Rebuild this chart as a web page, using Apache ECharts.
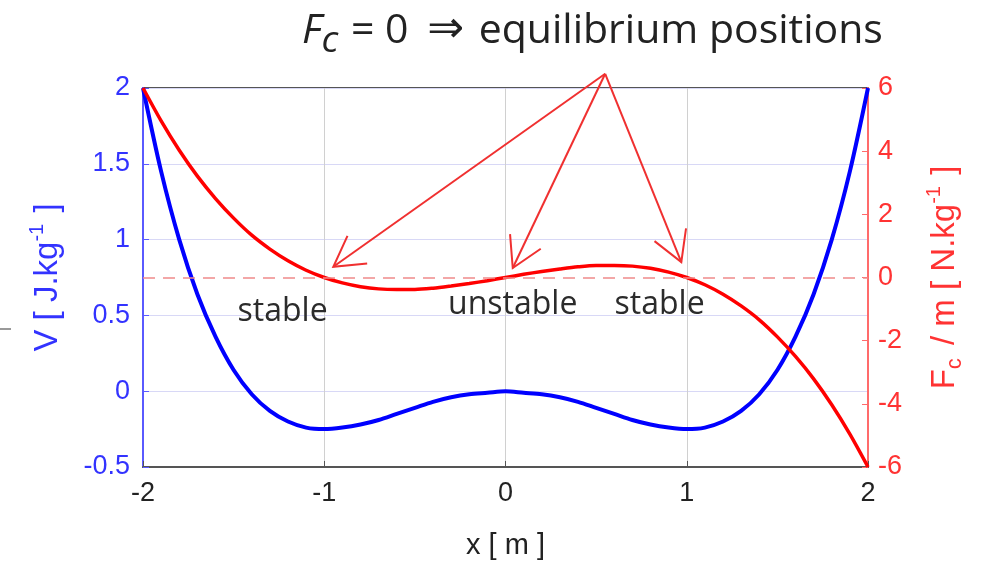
<!DOCTYPE html>
<html>
<head>
<meta charset="utf-8">
<script src="https://cdn.jsdelivr.net/npm/echarts@6/dist/echarts.min.js"></script>
<style>
  html, body { margin: 0; padding: 0; background: #fff; }
  #main { width: 987px; height: 574px; }
</style>
</head>
<body>
<div id="main"></div>
<script>
// x positions [m]
var xs = [-2.0, -1.9, -1.8, -1.7, -1.6, -1.5, -1.4, -1.3, -1.2, -1.1, -1.0,
          -0.9, -0.8, -0.7, -0.6, -0.5, -0.4, -0.3, -0.2, -0.1, 0.0,
          0.1, 0.2, 0.3, 0.4, 0.5, 0.6, 0.7, 0.8, 0.9, 1.0,
          1.1, 1.2, 1.3, 1.4, 1.5, 1.6, 1.7, 1.8, 1.9, 2.0];
// potential V [J/kg]
var vValues = [2.00, 1.45, 1.00, 0.64, 0.36, 0.14, -0.02, -0.13, -0.20, -0.24, -0.25,
               -0.24, -0.22, -0.19, -0.15, -0.11, -0.07, -0.04, -0.02, -0.01, 0.00,
               -0.01, -0.02, -0.04, -0.07, -0.11, -0.15, -0.19, -0.22, -0.24, -0.25,
               -0.24, -0.20, -0.13, -0.02, 0.14, 0.36, 0.64, 1.00, 1.45, 2.00];
// force Fc/m [N/kg]
var fValues = [6.00, 4.96, 4.03, 3.21, 2.50, 1.88, 1.34, 0.90, 0.53, 0.23, 0.00,
               -0.17, -0.29, -0.36, -0.38, -0.38, -0.34, -0.27, -0.19, -0.10, 0.00,
               0.10, 0.19, 0.27, 0.34, 0.38, 0.38, 0.36, 0.29, 0.17, 0.00,
               -0.23, -0.53, -0.90, -1.34, -1.88, -2.50, -3.21, -4.03, -4.96, -6.00];
var xTicks = [-2, -1, 0, 1, 2];
var vTicks = [-0.5, 0, 0.5, 1, 1.5, 2];
var fTicks = [-6, -4, -2, 0, 2, 4, 6];

// equilibrium labels and arrows (x, value)
var eqLabels = ['stable', 'unstable', 'stable'];
var eqLabelPos = [[-1.23, 0.52], [0.04, 0.57], [0.85, 0.57]];   // on V axis
var arrowFrom = [0.55, 6.45];                                      // on F axis
var arrowTo = [[-0.95, 0.34], [0.04, 0.30], [0.97, 0.49]];

var BLUE = '#0000ff', RED = '#ff0000';
var TICKFONT = 'Liberation Sans, Arial, sans-serif';

function pairs(a, b) {
    var out = [];
    for (var i = 0; i < a.length; i++) out.push([a[i], b[i]]);
    return out;
}

var myChart = echarts.init(document.getElementById('main'));

myChart.setOption({
    animation: false,
    backgroundColor: '#fff',
    title: {
        text: '{f|F}{c|c}{t| = 0 }{a|⇒}{t| equilibrium positions}',
        left: 297,
        top: 2,
        textStyle: {
            fontWeight: 'normal',
            rich: {
                f: { fontFamily: 'Open Sans', fontStyle: 'italic', fontWeight: 'normal', fontSize: 41, lineHeight: 48, color: '#222' },
                c: { fontFamily: 'Open Sans', fontStyle: 'italic', fontWeight: 'normal', fontSize: 37, lineHeight: 48, padding: [20, 2, 0, 0], color: '#222' },
                t: { fontFamily: 'Open Sans', fontWeight: 'normal', fontSize: 41, lineHeight: 48, color: '#222' },
                a: { fontFamily: 'DejaVu Sans', fontWeight: 'normal', fontSize: 44, lineHeight: 48, color: '#222', padding: [0, 4, 0, 8] }
            }
        }
    },
    grid: {
        left: 143, right: 119, top: 88, bottom: 107,
        show: true,
        borderColor: '#555',
        borderWidth: 2
    },
    xAxis: {
        type: 'value',
        min: -2, max: 2, interval: 1,
        name: 'x [ m ]',
        nameLocation: 'middle',
        nameGap: 64,
        nameTextStyle: { fontFamily: TICKFONT, fontSize: 29, color: '#222' },
        axisLine: { onZero: false, lineStyle: { color: '#555', width: 2 } },
        axisTick: { inside: true, length: 6, lineStyle: { color: '#555' } },
        axisLabel: { fontFamily: TICKFONT, fontSize: 27, color: '#222', margin: 13 },
        splitLine: { lineStyle: { color: '#d0d0d0', width: 1 } }
    },
    yAxis: [
        {
            type: 'value',
            min: -0.5, max: 2, interval: 0.5,
            name: '{t|V [ J.kg}{sup|-1}{t| ]}',
            nameLocation: 'middle',
            nameRotate: 90,
            nameGap: 76,
            nameTextStyle: {
                rich: {
                    t: { fontFamily: TICKFONT, fontSize: 33, lineHeight: 38, color: '#3333ff' },
                    sup: { fontFamily: TICKFONT, fontSize: 20, lineHeight: 20, padding: [0, 2, 22, 0], color: '#3333ff' }
                }
            },
            axisLine: { onZero: false, lineStyle: { color: '#5a5aff', width: 2 } },
            axisTick: { inside: true, length: 6, lineStyle: { color: '#5a5aff' } },
            axisLabel: { fontFamily: TICKFONT, fontSize: 27, color: '#3333ff', margin: 13 },
            splitLine: { lineStyle: { color: '#d8d8f6', width: 1 } }
        },
        {
            type: 'value',
            position: 'right',
            min: -6, max: 6, interval: 2,
            name: '{t|F}{sub|c}{t| / m [ N.kg}{sup|-1}{t| ]}',
            nameLocation: 'middle',
            nameRotate: 90,
            nameGap: 58,
            nameTextStyle: {
                rich: {
                    t: { fontFamily: TICKFONT, fontSize: 33, lineHeight: 38, color: '#ff3333' },
                    sub: { fontFamily: TICKFONT, fontSize: 22, lineHeight: 22, padding: [20, 4, 0, 0], color: '#ff3333' },
                    sup: { fontFamily: TICKFONT, fontSize: 20, lineHeight: 20, padding: [0, 2, 22, 0], color: '#ff3333' }
                }
            },
            axisLine: { onZero: false, lineStyle: { color: '#ff6b6b', width: 2 } },
            axisTick: { inside: true, length: 6, lineStyle: { color: '#ff6b6b' } },
            axisLabel: { fontFamily: TICKFONT, fontSize: 27, color: '#ff3333', margin: 10 },
            splitLine: { show: false }
        }
    ],
    series: [
        {
            name: 'V',
            type: 'line',
            yAxisIndex: 0,
            smooth: 0.3,
            showSymbol: false,
            data: pairs(xs, vValues),
            lineStyle: { color: BLUE, width: 4 },
            itemStyle: { color: BLUE },
            z: 3
        },
        {
            name: 'Fc/m',
            type: 'line',
            yAxisIndex: 1,
            smooth: 0.3,
            showSymbol: false,
            data: pairs(xs, fValues),
            lineStyle: { color: RED, width: 3.5 },
            itemStyle: { color: RED },
            z: 4,
            markLine: {
                silent: true,
                symbol: ['none', 'none'],
                label: { show: false },
                lineStyle: { color: '#f08a8a', width: 1.5, type: [12, 8] },
                data: [{ yAxis: 0 }]
            }
        }
    ]
});

// arrows and stability labels, placed from data coordinates
function arrowShape(p0, p1) {
    var dx = p0[0] - p1[0], dy = p0[1] - p1[1];
    var ang = Math.atan2(dy, dx);
    var len = 34, spread = Math.PI / 6;
    var a = [p1[0] + len * Math.cos(ang + spread), p1[1] + len * Math.sin(ang + spread)];
    var b = [p1[0] + len * Math.cos(ang - spread), p1[1] + len * Math.sin(ang - spread)];
    var style = { stroke: '#f03030', lineWidth: 2, fill: null };
    return [
        { type: 'line', shape: { x1: p0[0], y1: p0[1], x2: p1[0], y2: p1[1] }, style: style, z: 10 },
        { type: 'polyline', shape: { points: [a, p1, b] }, style: style, z: 10 }
    ];
}

var graphics = [];
var origin = myChart.convertToPixel({ xAxisIndex: 0, yAxisIndex: 1 }, arrowFrom);
for (var i = 0; i < arrowTo.length; i++) {
    var end = myChart.convertToPixel({ xAxisIndex: 0, yAxisIndex: 1 }, arrowTo[i]);
    graphics = graphics.concat(arrowShape(origin, end));
}
for (var j = 0; j < eqLabels.length; j++) {
    var p = myChart.convertToPixel({ xAxisIndex: 0, yAxisIndex: 0 }, eqLabelPos[j]);
    graphics.push({
        type: 'text', x: p[0], y: p[1], z: 10,
        style: {
            text: eqLabels[j], fill: '#2b2b2b',
            font: '32px "Open Sans"', align: 'center', verticalAlign: 'middle'
        }
    });
}
// small stray rule at the left edge of the figure
graphics.push({
    type: 'line', shape: { x1: 0, y1: 329, x2: 11, y2: 329 },
    style: { stroke: '#777', lineWidth: 1.5 }
});

myChart.setOption({ graphic: graphics });
</script>
</body>
</html>
